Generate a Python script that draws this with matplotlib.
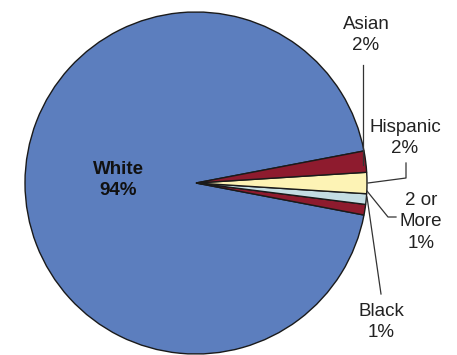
"""Pie chart of enrollment by race/ethnicity."""

import numpy as np
import matplotlib

matplotlib.use("Agg")
import matplotlib.pyplot as plt  # noqa: E402

labels = ["White", "Black", "2 or\nMore", "Hispanic", "Asian"]
values = [94, 1, 1, 2, 2]
colors = ["#5C7EBE", "#8E1B2E", "#C4DDE3", "#FDF3B5", "#8E1B2E"]

W, H = 457, 355
fig = plt.figure(figsize=(W / 100, H / 100), dpi=100)
ax = fig.add_axes([0, 0, 1, 1])
ax.set_xlim(0, W)
ax.set_ylim(H, 0)
ax.set_aspect("equal")
ax.axis("off")

cx, cy, r = 196, 183, 171
# y axis inverted, so counterclock=False draws counter-clockwise on screen
wedges, _ = ax.pie(values, colors=colors, center=(cx, cy), radius=r,
                   startangle=-10.8, counterclock=False, frame=True,
                   wedgeprops=dict(edgecolor="#1a1a1a", linewidth=1.0))
ax.set_xlim(0, W)
ax.set_ylim(H, 0)
ax.axis("off")

plt.rcParams["font.family"] = ["Liberation Sans", "DejaVu Sans"]
fs = 13.5

pct = [f"{v}%" for v in values]
ax.text(118, 180, f"{labels[0]}\n{pct[0]}", ha="center", va="center",
        fontsize=fs, fontweight="bold", color="#111111", linespacing=1.3,
        family="Liberation Sans")

# outside labels: (text centre, leader line points)
outside = {
    4: ((366, 35), [(363, 65), (363, 165)]),
    3: ((405, 138), [(406, 163), (406, 178), (368, 183)]),
    2: ((421, 222), [(396, 217), (388, 217), (367, 191)]),
    1: ((381, 322), [(381, 294), (367, 197)]),
}
for i, ((tx, ty), pts) in outside.items():
    ax.text(tx, ty, f"{labels[i]}\n{pct[i]}", ha="center", va="center",
            fontsize=fs, color="#222222", linespacing=1.35,
            family="Liberation Sans")
    xs, ys = zip(*pts)
    ax.plot(xs, ys, color="#333333", linewidth=0.9)

fig.savefig("out.png", dpi=100)
